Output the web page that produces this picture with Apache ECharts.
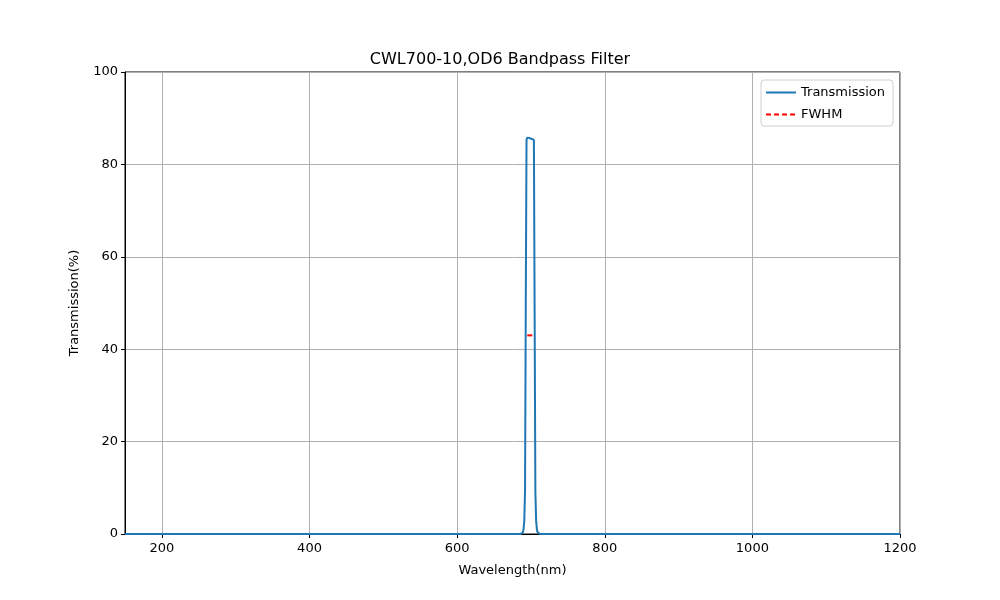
<!DOCTYPE html>
<html>
<head>
<meta charset="utf-8">
<script src="https://cdn.jsdelivr.net/npm/echarts@6/dist/echarts.min.js"></script>
<style>html,body{margin:0;padding:0;background:#fff}#c{width:1000px;height:600px}</style>
</head>
<body>
<div id="c"></div>
<script>
const wavelengths = [150, 300, 500, 650, 680, 686, 688, 689, 690, 691, 692, 693, 694, 695, 696, 697, 698, 699, 700, 701, 702, 703, 704, 705, 706, 707, 708, 709, 710, 712, 720, 800, 1000, 1200];
const transmission = [0, 0, 0, 0, 0, 0, 0.1, 0.4, 1.0, 3.0, 9.5, 50, 85.3, 85.8, 85.6, 86.0, 85.7, 85.4, 85.8, 85.5, 85.4, 85.6, 85.3, 85.2, 9.0, 3.0, 1.0, 0.4, 0.1, 0, 0, 0, 0, 0];
const fwhmX = [695, 705];
const fwhmY = [43, 43];
const xTicks = [200, 400, 600, 800, 1000, 1200];
const yTicks = [0, 20, 40, 60, 80, 100];

const font = 'DejaVu Sans';
const chart = echarts.init(document.getElementById('c'), null, {renderer: 'canvas'});
chart.setOption({
  animation: false,
  backgroundColor: '#fff',
  title: {
    text: 'CWL700-10,OD6 Bandpass Filter',
    left: 'center', top: 47,
    textStyle: {fontFamily: font, fontSize: 16, fontWeight: 'normal', color: '#000'}
  },
  grid: {left: 125, right: 100, top: 72, bottom: 66, show: true, borderColor: '#000', borderWidth: 1, backgroundColor: 'transparent'},
  legend: {
    orient: 'vertical', right: 107, top: 80,
    data: ['Transmission', 'FWHM'],
    itemWidth: 30, itemHeight: 10, itemGap: 9,
    padding: [6, 8, 5, 4],
    itemStyle: {opacity: 0},
    borderColor: '#d0d0d0', borderWidth: 1, borderRadius: 3,
    textStyle: {fontFamily: font, fontSize: 13, color: '#000'}
  },
  xAxis: {
    type: 'value', min: 150, max: 1200,
    name: 'Wavelength(nm)', nameLocation: 'middle', nameGap: 30,
    nameTextStyle: {fontFamily: font, fontSize: 13, color: '#000'},
    axisLine: {show: true, onZero: false, lineStyle: {color: '#000'}},
    axisTick: {show: true, length: 4, inside: false, customValues: xTicks, lineStyle: {color: '#000'}},
    axisLabel: {customValues: xTicks, formatter: v => String(v), fontFamily: font, fontSize: 13, color: '#000', margin: 8},
    splitLine: {show: true, customValues: xTicks, lineStyle: {color: '#b0b0b0', width: 1}}
  },
  yAxis: {
    type: 'value', min: 0, max: 100, interval: 20,
    name: 'Transmission(%)', nameLocation: 'middle', nameGap: 44,
    nameTextStyle: {fontFamily: font, fontSize: 13, color: '#000'},
    axisLine: {show: true, lineStyle: {color: '#000'}},
    axisTick: {show: true, length: 4, lineStyle: {color: '#000'}},
    axisLabel: {fontFamily: font, fontSize: 13, color: '#000', margin: 7},
    splitLine: {show: true, lineStyle: {color: '#b0b0b0', width: 1}}
  },
  series: [
    {
      name: 'Transmission', type: 'line', symbol: 'none',
      data: wavelengths.map((w, i) => [w, transmission[i]]),
      lineStyle: {color: '#1f77b4', width: 2}, itemStyle: {color: '#1f77b4'}
    },
    {
      name: 'FWHM', type: 'line', symbol: 'none',
      data: fwhmX.map((w, i) => [w, fwhmY[i]]),
      lineStyle: {color: '#ff0000', width: 2, type: [5, 3]}, itemStyle: {color: '#ff0000'}
    }
  ]
});
</script>
</body>
</html>
